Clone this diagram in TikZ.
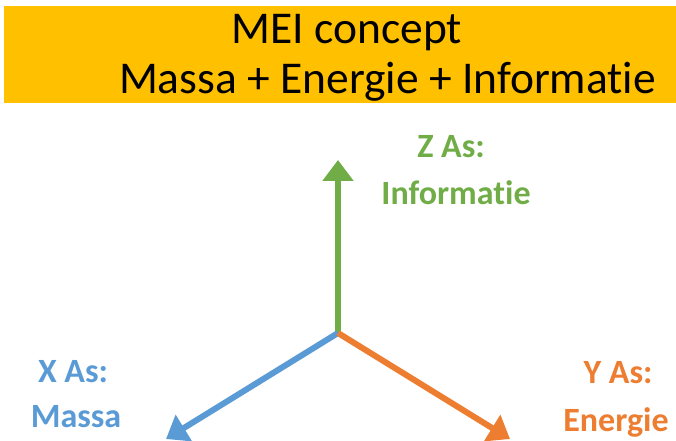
\documentclass[tikz,border=0pt]{standalone}
\usepackage{fontspec}
\setmainfont[Ligatures=NoCommon]{Carlito}
\usetikzlibrary{arrows.meta}
\definecolor{bannerfill}{HTML}{FFC000}
\definecolor{axgreen}{HTML}{70AD47}
\definecolor{axblue}{HTML}{5B9BD5}
\definecolor{axorange}{HTML}{ED7D31}
\tikzset{
  axis/.style={line width=6bp, -{Triangle[width=30bp,length=21bp]}},
  titletext/.style={anchor=base, inner sep=0pt, font=\fontsize{45.5bp}{50bp}\selectfont},
  axlabel/.style={anchor=base, inner sep=0pt, font=\fontsize{34bp}{40bp}\selectfont\bfseries},
}
\begin{document}
\begin{tikzpicture}[x=1bp, y=-1bp]
  \useasboundingbox (0,0) rectangle (676,441);
  % title banner
  \fill[bannerfill] (4,6) rectangle (676,103);
  \node[titletext] (title1) at (347,44) {MEI concept};
  \node[titletext] (title2) at (387.5,94) {Massa + Energie + Informatie};
  % axes
  \coordinate (O) at (338,333);
  \coordinate (Ztip) at (338,160);
  \coordinate (Xtip) at (166,439);
  \coordinate (Ytip) at (510,439);
  \draw[axis, axgreen] (O) -- (Ztip);
  \draw[axis, axblue] (O) -- (Xtip);
  \draw[axis, axorange] (O) -- (Ytip);
  % axis labels
  \node[axlabel, text=axgreen] (zl1) at (451,158) {Z As:};
  \node[axlabel, text=axgreen] (zl2) at (456,205) {Informatie};
  \node[axlabel, text=axblue] (xl1) at (73,382) {X As:};
  \node[axlabel, text=axblue] (xl2) at (76,427) {Massa};
  \node[axlabel, text=axorange] (yl1) at (618,383) {Y As:};
  \node[axlabel, text=axorange] (yl2) at (616,431) {Energie};
\end{tikzpicture}
\end{document}
